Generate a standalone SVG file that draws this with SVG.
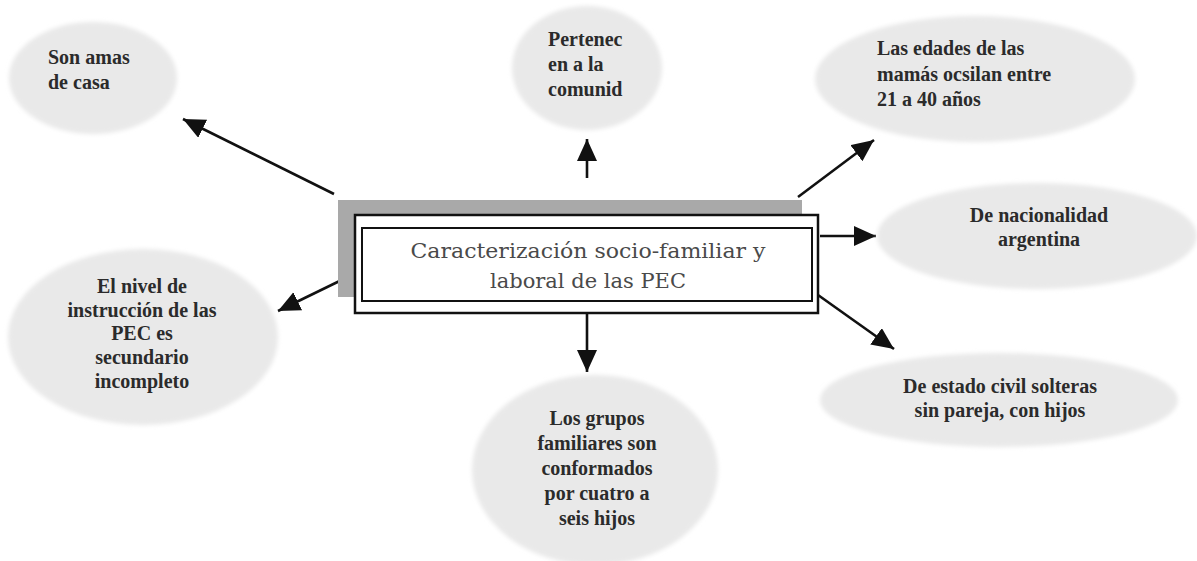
<svg xmlns="http://www.w3.org/2000/svg" width="1197" height="561" viewBox="0 0 1197 561">
  <style>
    .bubble { fill: #e9e9e9; filter: url(#soft); }
    .label { font-family: 'Liberation Serif', 'DejaVu Serif', serif; font-weight: 700; font-size: 20px; fill: #2b2b2b; }
    .mid { text-anchor: middle; }
    .title { font-family: 'DejaVu Serif', 'Liberation Serif', serif; font-size: 21px; fill: #4a4a4a; text-anchor: middle; }
    .link { stroke: #111; stroke-width: 2.6; fill: none; marker-end: url(#head); }
  </style>
  <defs>
    <filter id="soft" x="-10%" y="-10%" width="120%" height="120%">
      <feGaussianBlur stdDeviation="2"/>
    </filter>
    <marker id="head" markerUnits="userSpaceOnUse" markerWidth="24" markerHeight="22" refX="22" refY="10" orient="auto">
      <path d="M0,0 L22,10 L0,20 z" fill="#111"/>
    </marker>
  </defs>
  <rect width="1197" height="561" fill="#fff"/>

  <!-- connectors from the central box -->
  <g id="connectors">
    <line class="link" x1="334" y1="194" x2="183" y2="119"/>
    <line class="link" x1="587" y1="178" x2="587" y2="139"/>
    <line class="link" x1="798" y1="197" x2="874" y2="140"/>
    <line class="link" x1="820" y1="236" x2="876" y2="236"/>
    <line class="link" x1="818" y1="295" x2="894" y2="349"/>
    <line class="link" x1="587" y1="313" x2="587" y2="372"/>
    <line class="link" x1="356" y1="273" x2="278" y2="311"/>
  </g>

  <!-- central box -->
  <g id="center">
    <rect x="338" y="200" width="464" height="97" fill="#a9a9a9"/>
    <rect x="355" y="215" width="463" height="98" fill="#fff" stroke="#111" stroke-width="2.5"/>
    <rect x="362" y="228" width="450" height="73" fill="none" stroke="#111" stroke-width="2"/>
    <text class="title" x="588" y="258" textLength="355" lengthAdjust="spacingAndGlyphs">Caracterización socio-familiar y</text>
    <text class="title" x="588" y="288">laboral de las PEC</text>
  </g>

  <g id="node-amas">
    <ellipse class="bubble" cx="93" cy="78" rx="84" ry="56"/>
    <text class="label" x="48" y="64">Son amas</text>
    <text class="label" x="48" y="89">de casa</text>
  </g>

  <g id="node-comunidad">
    <ellipse class="bubble" cx="587" cy="68" rx="75" ry="62"/>
    <text class="label" x="548" y="46">Pertenec</text>
    <text class="label" x="548" y="71">en a la</text>
    <text class="label" x="548" y="96">comunid</text>
  </g>

  <g id="node-edades">
    <ellipse class="bubble" cx="975" cy="79" rx="160" ry="63"/>
    <text class="label" x="877" y="55">Las edades de las</text>
    <text class="label" x="877" y="81">mamás ocsilan entre</text>
    <text class="label" x="877" y="106">21 a 40 años</text>
  </g>

  <g id="node-nacionalidad">
    <ellipse class="bubble" cx="1037" cy="236" rx="160" ry="53"/>
    <text class="label mid" x="1039" y="222">De nacionalidad</text>
    <text class="label mid" x="1039" y="246">argentina</text>
  </g>

  <g id="node-estado">
    <ellipse class="bubble" cx="999" cy="400" rx="179" ry="47"/>
    <text class="label mid" x="1000" y="393">De estado civil solteras</text>
    <text class="label mid" x="1000" y="417">sin pareja, con hijos</text>
  </g>

  <g id="node-grupos">
    <ellipse class="bubble" cx="595" cy="470" rx="123" ry="95"/>
    <text class="label mid" x="597" y="425">Los grupos</text>
    <text class="label mid" x="597" y="450">familiares son</text>
    <text class="label mid" x="597" y="475">conformados</text>
    <text class="label mid" x="597" y="500">por cuatro a</text>
    <text class="label mid" x="597" y="525">seis hijos</text>
  </g>

  <g id="node-instruccion">
    <ellipse class="bubble" cx="143" cy="337" rx="135" ry="88"/>
    <text class="label mid" x="142" y="293">El nivel de</text>
    <text class="label mid" x="142" y="317">instrucción de las</text>
    <text class="label mid" x="142" y="340">PEC es</text>
    <text class="label mid" x="142" y="364">secundario</text>
    <text class="label mid" x="142" y="388">incompleto</text>
  </g>
</svg>
